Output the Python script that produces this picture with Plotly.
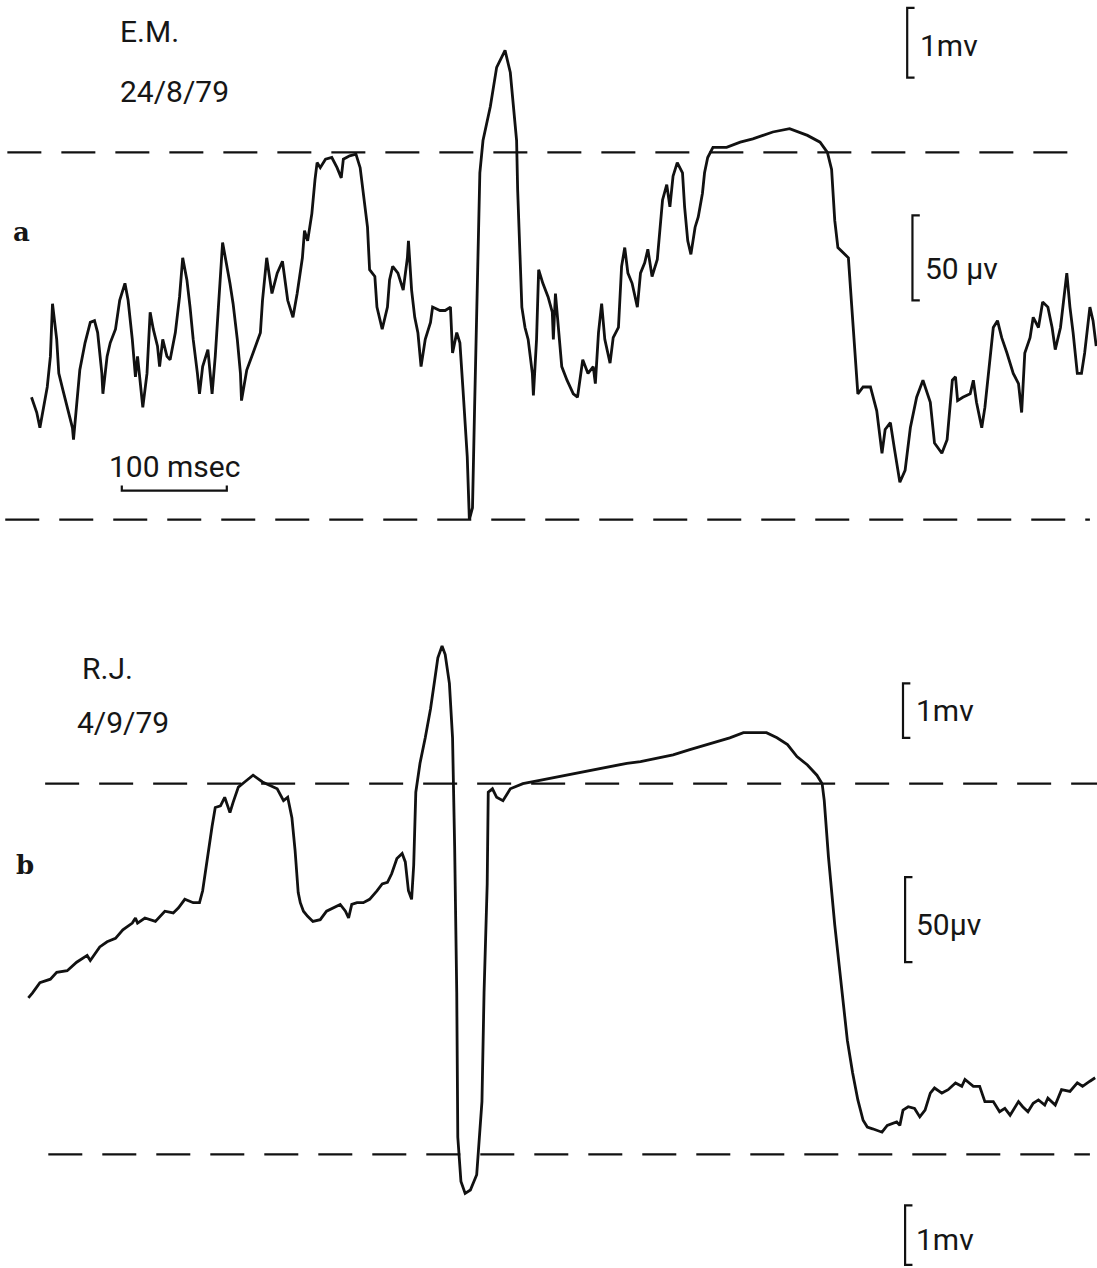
import plotly.graph_objects as go

# ---- Trace a: E.M. 24/8/79 (time in ms, amplitude in µV) ----
t_a = [30, 35, 38, 43, 45, 48, 50, 54, 56, 60, 64, 69, 70, 73, 76, 81, 86, 90, 93, 97,
       98, 102, 105, 110, 114, 119, 122, 126, 129, 131, 133, 136, 140, 143, 146, 150, 152, 155, 159, 162,
       167, 171, 174, 178, 181, 184, 188, 190, 193, 198, 202, 205, 208, 211, 212, 219, 222, 226, 229, 230,
       235, 241, 248, 250, 254, 259, 264, 269, 271, 274, 279, 283, 288, 290, 293, 297, 300, 302, 305, 310,
       316, 321, 325, 327, 333, 339, 343, 346, 350, 352, 357, 359, 364, 369, 371, 374, 379, 384, 388, 389,
       392, 395, 398, 401, 405, 410, 412, 419, 424, 429, 430, 431, 435, 438, 441, 445, 447, 450, 452, 455,
       457, 460, 467, 473, 481, 486, 492, 493, 495, 497, 500, 503, 507, 508, 511, 513, 517, 522, 526, 527,
       529, 531, 535, 540, 546, 550, 555, 560, 565, 567, 570, 573, 576, 581, 584, 589, 592, 595, 598, 602,
       607, 610, 614, 617, 621, 626, 629, 631, 635, 638, 641, 645, 650, 652, 655, 658, 662, 665, 669, 671,
       674, 679, 692, 705, 717, 736, 752, 769, 781, 788, 792, 795, 798, 803, 808, 811, 814, 817, 822, 829,
       835, 840, 843, 848, 852, 857, 862, 867, 873, 879, 886, 890, 897, 902, 907, 910, 912, 917, 924, 927,
       930, 935, 938, 943, 946, 950, 954, 959, 965, 970, 973, 976, 981, 984, 989, 993, 998, 1002, 1005, 1010,
       1014, 1016, 1019, 1022, 1026, 1030, 1033, 1038, 1041, 1044]
v_a = [-36, -45, -54, -36, -30, -12, 19, -2, -22, -32, -42, -54, -61, -42, -20, -4, 8, 9, 2, -22,
       -34, -12, -4, 4, 21, 31, 21, -2, -24, -12, -26, -42, -22, 14, 4, -6, -18, -2, -12, -14,
       2, 23, 46, 33, 17, -2, -22, -34, -18, -8, -34, -12, 17, 46, 55, 31, 19, -2, -22, -38,
       -20, -10, 2, 21, 46, 25, 37, 44, 34, 21, 11, 25, 46, 62, 56, 72, 92, 102, 99, 104,
       105, 99, 93, 104, 106, 107, 99, 84, 64, 39, 35, 17, 4, 17, 33, 41, 37, 27, 46, 56,
       27, 11, 2, -18, -2, 8, 17, 15, 15, 17, 2, -10, 2, -4, -32, -71, -108, -101, -42, 37,
       96, 115, 135, 158, 168, 155, 115, 86, 46, 17, 5, -2, -22, -35, -2, 39, 31, 23, 14, -2,
       25, 11, -18, -26, -34, -36, -14, -22, -18, -28, 2, 19, -2, -16, -1, 5, 41, 52, 37, 31,
       17, 37, 43, 51, 35, 45, 64, 80, 89, 76, 94, 102, 96, 76, 56, 48, 64, 70, 84, 96,
       105, 111, 111, 114, 116, 120, 122, 118, 114, 108, 98, 68, 52, 49, 46, 19, -10, -34, -30, -30,
       -44, -69, -55, -51, -67, -86, -79, -54, -36, -26, -39, -63, -69, -61, -26, -24, -38, -36, -34, -26,
       -39, -54, -42, -14, 5, 9, -1, -10, -22, -28, -45, -10, -1, 11, 5, 20, 17, 5, -8, 5,
       29, 37, 17, 2, -22, -22, -10, 17, 9, -6]

# ---- Trace b: R.J. 4/9/79 ----
t_b = [27, 31, 38, 48, 54, 64, 73, 83, 86, 95, 102, 110, 117, 126, 129, 131, 138, 148, 157, 165,
       170, 176, 184, 190, 193, 197, 202, 205, 210, 214, 219, 222, 227, 233, 241, 250, 264, 270, 274, 278,
       281, 284, 286, 289, 293, 298, 305, 311, 317, 324, 329, 332, 335, 340, 346, 352, 359, 364, 369, 373,
       378, 383, 386, 389, 392, 394, 396, 400, 405, 410, 414, 417, 421, 424, 428, 431, 433, 435, 436, 439,
       443, 448, 454, 459, 461, 464, 465, 469, 473, 479, 486, 498, 514, 530, 546, 562, 578, 597, 610, 626,
       641, 657, 673, 683, 695, 708, 721, 730, 740, 750, 759, 769, 778, 783, 785, 787, 789, 795, 800, 807,
       812, 817, 822, 826, 831, 840, 845, 854, 857, 860, 865, 871, 876, 881, 886, 890, 897, 903, 910, 916,
       919, 927, 933, 938, 946, 952, 957, 962, 970, 974, 979, 984, 989, 995, 998, 1005, 1011, 1019, 1026, 1031,
       1038, 1043]
v_b = [-17, -14, -8, -6, -2, -1, 4, 8, 5, 13, 16, 18, 23, 27, 30, 27, 30, 28, 34, 33,
       36, 41, 39, 39, 46, 64, 84, 95, 96, 101, 92, 98, 107, 110, 114, 110, 106, 99, 101, 89,
       70, 45, 39, 34, 31, 28, 29, 34, 36, 38, 34, 30, 38, 39, 39, 41, 46, 50, 51, 56,
       65, 68, 63, 46, 41, 61, 104, 121, 136, 153, 170, 183, 190, 185, 168, 136, 72, -14, -99, -125,
       -132, -130, -121, -78, -14, 50, 104, 106, 101, 99, 106, 109, 111, 113, 115, 117, 119, 121, 122, 124,
       126, 129, 132, 134, 136, 139, 139, 139, 136, 132, 125, 120, 114, 109, 99, 80, 66, 26, -2, -42,
       -61, -77, -89, -93, -94, -96, -92, -90, -92, -83, -81, -82, -87, -83, -73, -70, -73, -71, -67, -69,
       -65, -69, -69, -78, -78, -84, -82, -86, -78, -81, -84, -79, -77, -80, -76, -80, -71, -72, -67, -69,
       -66, -64]

# Clipping levels of the pen recorder (dashed lines), µV
CLIP_A = 108
CLIP_B = 109
DASH_SPAN_A = [(7, 1031), (5, 1038)]      # upper, lower extents (ms)
DASH_SPAN_B = [(43, 1045), (46, 1038)]

# Calibration bars
TIME_BAR_MS = 100
EEG_BAR_UV = 50

W, H = 1097, 1268
PX_PER_MS = 1.05
PX_PER_UV = 1.7
SPLIT_PX = 620          # boundary between the two records, px from top
ZERO_A_PX = 336         # baseline of record a, px from top
ZERO_B_PX = 969         # baseline of record b, px from top

INK = "#111111"
LABEL_FONT = dict(family="Roboto, 'DejaVu Sans', sans-serif", size=30, color="#161616", weight=400)
LETTER_FONT = dict(family="'DejaVu Serif', 'Liberation Serif', serif", size=26, color="#161616", weight=700)

fig = go.Figure()
fig.add_trace(go.Scatter(x=t_a, y=v_a, mode="lines", xaxis="x", yaxis="y",
                         line=dict(color=INK, width=2.8, shape="linear"), hoverinfo="skip"))
fig.add_trace(go.Scatter(x=t_b, y=v_b, mode="lines", xaxis="x", yaxis="y2",
                         line=dict(color=INK, width=2.8, shape="linear"), hoverinfo="skip"))

shapes = []
# dashed clipping levels
for (x0, x1), lvl in zip(DASH_SPAN_A, [CLIP_A, -CLIP_A]):
    shapes.append(dict(type="line", xref="x", yref="y", x0=x0, x1=x1, y0=lvl, y1=lvl,
                       line=dict(color=INK, width=2.2, dash="34px,20px")))
for (x0, x1), lvl in zip(DASH_SPAN_B, [CLIP_B, -CLIP_B]):
    shapes.append(dict(type="line", xref="x", yref="y2", x0=x0, x1=x1, y0=lvl, y1=lvl,
                       line=dict(color=INK, width=2.2, dash="34px,20px")))


def bracket(x, y0, y1, yref, tick=7):
    """Open bracket '[' used as an amplitude calibration mark."""
    return dict(type="path", xref="x", yref=yref,
                path=f"M {x + tick},{y1} L {x},{y1} L {x},{y0} L {x + tick},{y0}",
                line=dict(color=INK, width=2.2))


# amplitude calibrations
shapes.append(bracket(864, 152, 193, "y"))                      # 1 mv, record a
shapes.append(bracket(869, 21, 21 + EEG_BAR_UV, "y"))           # 50 µv, record a
shapes.append(bracket(860, 136, 168, "y2"))                     # 1 mv, record b (top)
shapes.append(bracket(862, 4, 4 + EEG_BAR_UV, "y2"))            # 50 µv, record b
shapes.append(bracket(862, -174, -139, "y2"))                   # 1 mv, record b (bottom)

# time calibration: 100 msec bar
tb0 = 116
shapes.append(dict(type="path", xref="x", yref="y",
                   path=f"M {tb0},-88 L {tb0},-91 L {tb0 + TIME_BAR_MS},-91 L {tb0 + TIME_BAR_MS},-88",
                   line=dict(color=INK, width=2.2)))

annotations = [
    dict(text="E.M.", x=112, y=179, xref="x", yref="y", xanchor="left", yanchor="middle", font=LABEL_FONT),
    dict(text="24/8/79", x=112, y=144, xref="x", yref="y", xanchor="left", yanchor="middle", font=LABEL_FONT),
    dict(text="R.J.", x=76, y=177, xref="x", yref="y2", xanchor="left", yanchor="middle", font=LABEL_FONT),
    dict(text="4/9/79", x=71, y=145, xref="x", yref="y2", xanchor="left", yanchor="middle", font=LABEL_FONT),
    dict(text="a", x=20, y=61, xref="x", yref="y", xanchor="center", yanchor="middle", font=LETTER_FONT),
    dict(text="b", x=24, y=61, xref="x", yref="y2", xanchor="center", yanchor="middle", font=LETTER_FONT),
    dict(text="100 msec", x=tb0 + TIME_BAR_MS / 2, y=-77, xref="x", yref="y", xanchor="center",
         yanchor="middle", font=LABEL_FONT),
    dict(text="1mv", x=874, y=171, xref="x", yref="y", xanchor="left", yanchor="middle", font=LABEL_FONT),
    dict(text="50 µv", x=879, y=40, xref="x", yref="y", xanchor="left", yanchor="middle", font=LABEL_FONT),
    dict(text="1mv", x=870, y=152, xref="x", yref="y2", xanchor="left", yanchor="middle", font=LABEL_FONT),
    dict(text="50µv", x=870, y=26, xref="x", yref="y2", xanchor="left", yanchor="middle", font=LABEL_FONT),
    dict(text="1mv", x=870, y=-159, xref="x", yref="y2", xanchor="left", yanchor="middle", font=LABEL_FONT),
]
for a in annotations:
    a["showarrow"] = False

split = 1 - SPLIT_PX / H
fig.update_layout(
    width=W, height=H,
    margin=dict(l=0, r=0, t=0, b=0),
    paper_bgcolor="white", plot_bgcolor="white",
    showlegend=False,
    xaxis=dict(range=[0, W / PX_PER_MS], domain=[0, 1], visible=False, anchor="y"),
    yaxis=dict(domain=[split, 1],
               range=[(ZERO_A_PX - SPLIT_PX) / PX_PER_UV, ZERO_A_PX / PX_PER_UV], visible=False),
    yaxis2=dict(domain=[0, split],
                range=[(ZERO_B_PX - H) / PX_PER_UV, (ZERO_B_PX - SPLIT_PX) / PX_PER_UV], visible=False,
                anchor="x"),
    shapes=shapes,
    annotations=annotations,
)

fig.write_html("out.html")
